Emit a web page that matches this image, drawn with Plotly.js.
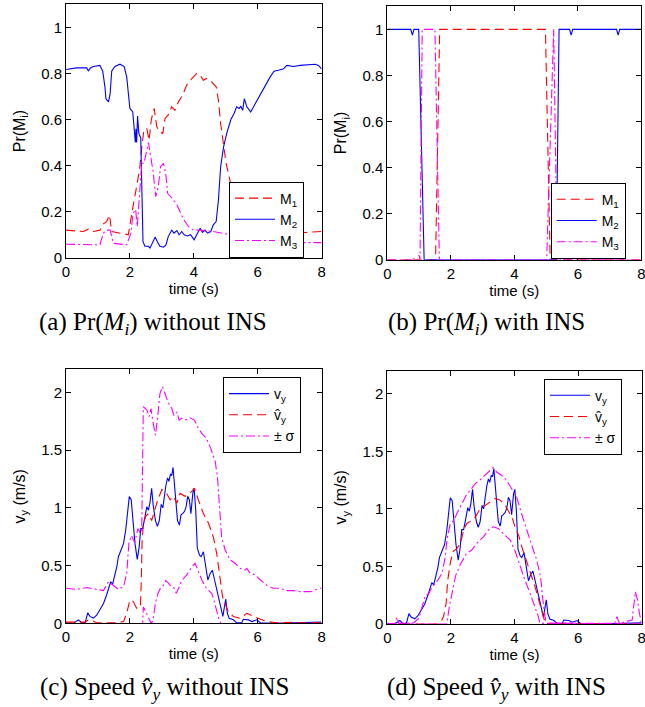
<!DOCTYPE html>
<html><head><meta charset="utf-8">
<script src="https://cdn.plot.ly/plotly-3.0.1.min.js"></script>
<style>html,body{margin:0;padding:0;background:#fff}</style>
</head><body><div id="chart" style="width:645px;height:707px"></div>
<script>
// ---------- Panel (a): Pr(Mi) without INS ----------
const aM1_t = [0,0.33,0.54,0.7,0.86,1.06,1.17,1.27,1.36,1.43,1.69,1.95,2.06,2.13,2.21,2.3,2.37,2.44,2.53,2.6,2.67,2.76,2.84,2.92,3.03,3.1,3.2,3.31,3.41,3.52,3.65,3.78,3.94,4.09,4.2,4.3,4.4,4.56,4.7,4.77,4.84,4.93,5.01,5.11,5.25,5.4,5.55,6.0,7.0,7.5,8.0];
const aM1   = [0.12,0.118,0.114,0.124,0.114,0.12,0.147,0.157,0.186,0.114,0.107,0.10,0.193,0.25,0.31,0.38,0.48,0.555,0.56,0.51,0.60,0.648,0.57,0.547,0.54,0.605,0.62,0.655,0.64,0.677,0.706,0.75,0.778,0.80,0.792,0.77,0.778,0.763,0.742,0.684,0.583,0.48,0.41,0.35,0.25,0.15,0.115,0.11,0.112,0.11,0.114];
const aM2_t = [0,0.33,0.65,0.7,0.76,0.86,1.06,1.15,1.22,1.25,1.33,1.38,1.43,1.53,1.69,1.82,1.9,1.95,2.0,2.09,2.13,2.17,2.19,2.21,2.24,2.28,2.34,2.38,2.41,2.47,2.58,2.63,2.71,2.79,2.86,2.94,3.05,3.13,3.2,3.31,3.38,3.47,3.54,3.62,3.7,3.8,3.9,4.01,4.09,4.2,4.27,4.35,4.43,4.53,4.61,4.7,4.77,4.84,4.93,5.03,5.16,5.26,5.34,5.42,5.47,5.53,5.58,5.66,5.78,5.92,6.08,6.23,6.39,6.51,6.65,6.81,6.91,7.12,7.33,7.54,7.8,7.9,8.0];
const aM2   = [0.817,0.824,0.824,0.81,0.824,0.83,0.835,0.81,0.74,0.69,0.677,0.71,0.81,0.83,0.84,0.83,0.785,0.727,0.648,0.633,0.58,0.50,0.56,0.50,0.615,0.54,0.52,0.25,0.07,0.05,0.05,0.042,0.063,0.09,0.07,0.05,0.046,0.056,0.092,0.12,0.107,0.118,0.10,0.114,0.10,0.095,0.10,0.078,0.10,0.128,0.11,0.12,0.107,0.114,0.143,0.157,0.25,0.395,0.48,0.54,0.60,0.626,0.655,0.648,0.658,0.64,0.69,0.655,0.633,0.67,0.706,0.745,0.785,0.81,0.814,0.82,0.835,0.83,0.835,0.838,0.84,0.835,0.82];
const aM3_t = [0,0.5,1.06,1.17,1.27,1.38,1.48,1.9,2.03,2.1,2.18,2.23,2.3,2.37,2.44,2.53,2.58,2.65,2.73,2.81,2.89,2.96,3.05,3.12,3.18,3.28,3.36,3.47,3.57,3.67,3.83,3.99,4.2,4.61,5.14,5.5,6.0,7.0,8.0];
const aM3   = [0.059,0.058,0.056,0.107,0.12,0.12,0.063,0.056,0.107,0.193,0.21,0.135,0.28,0.41,0.41,0.47,0.50,0.44,0.37,0.265,0.31,0.395,0.41,0.367,0.28,0.265,0.25,0.23,0.20,0.17,0.136,0.12,0.12,0.114,0.10,0.075,0.066,0.065,0.066];

// ---------- Panel (b): Pr(Mi) with INS ----------
const bM1_t = [0,0.75,0.8,0.86,1.52,1.65,4.98,5.13,7.25,7.3,7.35,8];
const bM1   = [0,0,0.01,0,0,1,1,0,0,0.01,0,0];
const bM2_t = [0,0.74,0.79,0.84,0.99,1.16,5.32,5.41,5.74,5.79,5.84,7.22,7.27,7.32,8];
const bM2   = [1,1,0.975,1,1,0,0,1,1,0.975,1,1,0.975,1,1];
const bM3_t = [0,0.95,1.0,1.03,1.1,1.5,1.64,5.02,5.24,5.35,8];
const bM3   = [0,0,0.02,0,1,1,0,0,1,0,0];

// ---------- Measured speed v_y (same in c and d) ----------
const vy_t = [0,0.23,0.39,0.49,0.6,0.68,0.75,0.86,0.96,1.06,1.17,1.27,1.36,1.4,1.46,1.51,1.59,1.64,1.71,1.8,1.87,1.93,1.98,2.04,2.09,2.16,2.23,2.29,2.34,2.4,2.47,2.53,2.58,2.63,2.68,2.73,2.8,2.86,2.92,2.98,3.03,3.08,3.13,3.18,3.22,3.27,3.31,3.35,3.39,3.44,3.49,3.55,3.6,3.65,3.71,3.76,3.81,3.86,3.91,3.97,4.01,4.06,4.11,4.18,4.23,4.3,4.37,4.44,4.51,4.58,4.65,4.72,4.79,4.85,4.91,4.96,5.0,5.05,5.11,5.24,5.34,5.5,5.55,5.71,5.81,5.97,6.08,6.5,7.0,7.54,7.75,8.0];
const vy   = [0.005,0,0.03,0.005,0.005,0.09,0.06,0.045,0.07,0.115,0.17,0.245,0.32,0.36,0.34,0.39,0.49,0.577,0.635,0.69,0.81,0.95,1.097,1.07,0.89,0.69,0.554,0.66,0.82,0.82,0.92,1.01,0.98,1.05,1.17,1.02,0.89,0.84,0.89,1.03,1.0,1.12,1.2,1.26,1.23,1.29,1.28,1.35,1.21,1.07,0.89,0.85,0.94,0.95,0.97,1.01,1.10,1.07,0.95,1.13,1.17,0.98,0.65,0.59,0.577,0.62,0.49,0.375,0.43,0.46,0.375,0.29,0.2,0.115,0.06,0.144,0.21,0.087,0.043,0.03,0.006,0.005,0.035,0.03,0.015,0.03,0.005,0,0.005,0.01,0.01,0.01];

// ---------- Panel (c): estimate without INS ----------
const cVh_t = [0,0.6,0.7,0.85,0.95,1.6,1.8,1.9,2.0,2.1,2.21,2.33,2.36,2.38,2.42,2.5,2.58,2.68,2.84,3.0,3.15,3.26,3.36,3.47,3.57,3.73,3.88,4.02,4.14,4.3,4.46,4.61,4.72,4.82,4.9,4.98,5.08,5.24,5.45,5.66,5.87,6.08,6.28,6.6,7.12,7.33,8];
const cVh   = [0.01,0.01,0.03,0.02,0.005,0.005,0.015,0.087,0.2,0.19,0.13,0.145,0.4,0.7,0.86,0.93,0.95,0.89,1.04,1.16,1.125,1.07,1.1,1.04,1.125,1.1,1.125,1.17,1.07,0.95,0.866,0.75,0.6,0.375,0.23,0.17,0.1,0.058,0.043,0.087,0.058,0.035,0.015,0.005,0.01,0.005,0.005];
const cUp_t = [0,0.33,0.65,0.96,1.17,1.33,1.48,1.64,1.8,1.9,1.97,2.05,2.15,2.25,2.33,2.37,2.42,2.53,2.6,2.66,2.73,2.8,2.87,2.94,3.02,3.08,3.15,3.24,3.31,3.38,3.47,3.54,3.62,3.73,3.88,4.02,4.14,4.25,4.4,4.53,4.67,4.74,4.8,4.87,4.98,5.14,5.29,5.45,5.6,5.66,5.76,5.92,6.08,6.28,6.49,6.7,6.91,7.12,7.33,7.64,7.95,8];
const cUp   = [0.303,0.294,0.31,0.294,0.283,0.36,0.33,0.294,0.317,0.43,0.7,0.76,0.7,0.82,0.78,0.8,1.876,1.85,1.79,1.86,1.73,1.63,1.79,1.99,2.05,2.0,1.95,1.89,1.86,1.80,1.83,1.76,1.775,1.76,1.78,1.76,1.69,1.645,1.6,1.515,1.40,1.27,1.01,0.75,0.635,0.55,0.52,0.476,0.46,0.476,0.433,0.42,0.375,0.33,0.303,0.303,0.283,0.283,0.274,0.274,0.303,0.303];
const cLo_t = [2.37,2.42,2.5,2.58,2.66,2.72,2.8,2.88,2.95,3.05,3.12,3.2,3.26,3.36,3.45,3.52,3.62,3.78,3.94,4.04,4.14,4.25,4.4,4.56,4.63,4.72,4.79,4.85,4.95];
const cLo   = [-0.2,0.14,0.1,0.05,0.0,0.02,0.18,0.26,0.3,0.33,0.37,0.35,0.33,0.32,0.26,0.3,0.37,0.42,0.49,0.52,0.45,0.375,0.3,0.26,0.2,0.1,0.03,0,-0.1];

// ---------- Panel (d): estimate with INS ----------
const dVh_t = [0,1.6,1.67,1.77,1.85,1.9,1.98,2.06,2.19,2.3,2.4,2.5,2.66,2.77,2.92,3.07,3.23,3.39,3.55,3.71,3.82,3.92,4.02,4.13,4.23,4.34,4.44,4.55,4.65,4.76,4.86,4.94,5.0,8];
const dVh   = [0,0,0.01,0.064,0.18,0.38,0.526,0.627,0.656,0.70,0.815,0.873,0.9,0.93,1.0,1.03,1.06,1.09,1.075,1.03,0.975,0.93,0.84,0.77,0.67,0.58,0.5,0.41,0.32,0.21,0.107,0.035,0.006,0];
const dUp_t = [0,0.25,0.3,0.36,0.51,0.83,0.99,1.09,1.2,1.3,1.4,1.56,1.72,1.82,1.88,1.98,2.09,2.19,2.35,2.5,2.66,2.77,2.91,3.12,3.33,3.44,3.6,3.75,3.9,4.07,4.22,4.38,4.54,4.7,4.82,4.88,4.94,4.98,5.05,5.6,6.2,7.15,7.22,7.3,7.7,7.8,7.87,7.93,8.0];
const dUp   = [0,0.005,0.06,0.005,0.005,0.01,0.05,0.136,0.25,0.26,0.32,0.367,0.44,0.58,0.74,0.87,0.9,0.96,1.046,1.13,1.18,1.22,1.25,1.306,1.358,1.32,1.29,1.25,1.176,1.10,0.96,0.815,0.685,0.555,0.41,0.237,0.09,0.02,0,0.01,0.005,0.005,0.064,0.005,0.035,0.28,0.21,0.09,0];
const dLo_t = [0,1.87,1.95,2.05,2.15,2.3,2.49,2.65,2.81,3.02,3.18,3.33,3.49,3.7,3.86,4.01,4.17,4.33,4.49,4.64,4.75,4.8,8];
const dLo   = [0,0,0.15,0.3,0.42,0.52,0.613,0.64,0.7,0.757,0.815,0.844,0.83,0.77,0.73,0.64,0.5,0.38,0.266,0.15,0.064,0.006,0];

// ---------- ticks, labels ----------
const timeTicks = [0,2,4,6,8];
const probTicks = [0,0.2,0.4,0.6,0.8,1];
const probTickText = ['0','0.2','0.4','0.6','0.8','1'];
const speedTicks = [0,0.5,1,1.5,2];
const speedTickText = ['0','0.5','1','1.5','2'];
const modelNames = ['M<sub>1</sub>','M<sub>2</sub>','M<sub>3</sub>'];
const speedNames = ['v<sub>y</sub>','v\u0302<sub>y</sub>','\u00b1 \u03c3'];
const captions = ['(a) Pr(<i>M<sub>i</sub></i>) without INS','(b) Pr(<i>M<sub>i</sub></i>) with INS','(c) Speed <i>v\u0302<sub>y</sub></i> without INS','(d) Speed <i>v\u0302<sub>y</sub></i> with INS'];

const RED='#ff0000', BLUE='#0000ff', MAG='#ff00ff';
const DASH='9px,5px', DASHDOT='9px,3px,2px,3px';
function tr(x,y,name,color,dash,xa,ya,leg){
  return {type:'scatter',mode:'lines',x:x,y:y,name:name,xaxis:xa,yaxis:ya,legend:leg,
    connectgaps:false,line:{color:color,width:1.1,dash:dash},hoverinfo:'skip'};
}
// upper and lower sigma bounds drawn as one trace, separated by a gap
const cSig_t = cUp_t.concat([null], cLo_t), cSig = cUp.concat([null], cLo);
const dSig_t = dUp_t.concat([null], dLo_t), dSig = dUp.concat([null], dLo);
const traces = [
  tr(aM1_t,aM1,modelNames[0],RED,DASH,'x','y','legend'),
  tr(aM2_t,aM2,modelNames[1],BLUE,'solid','x','y','legend'),
  tr(aM3_t,aM3,modelNames[2],MAG,DASHDOT,'x','y','legend'),
  tr(bM1_t,bM1,modelNames[0],RED,DASH,'x2','y2','legend2'),
  tr(bM2_t,bM2,modelNames[1],BLUE,'solid','x2','y2','legend2'),
  tr(bM3_t,bM3,modelNames[2],MAG,DASHDOT,'x2','y2','legend2'),
  tr(vy_t,vy,speedNames[0],BLUE,'solid','x3','y3','legend3'),
  tr(cVh_t,cVh,speedNames[1],RED,DASH,'x3','y3','legend3'),
  tr(cSig_t,cSig,speedNames[2],MAG,DASHDOT,'x3','y3','legend3'),
  tr(vy_t,vy,speedNames[0],BLUE,'solid','x4','y4','legend4'),
  tr(dVh_t,dVh,speedNames[1],RED,DASH,'x4','y4','legend4'),
  tr(dSig_t,dSig,speedNames[2],MAG,DASHDOT,'x4','y4','legend4')
];

const W=645, H=707;
const SANS='Liberation Sans, Arial, sans-serif';
const SERIF='Liberation Serif, Times New Roman, serif';
function ax(extra){
  return Object.assign({showline:true,linecolor:'#000',linewidth:1,mirror:'ticks',ticks:'inside',ticklen:5,
    tickcolor:'#000',tickwidth:1,showgrid:false,zeroline:false,fixedrange:true,ticklabeloverflow:'allow',
    tickfont:{family:SANS,size:15,color:'#000'}},extra);
}
function xax(px0,px1,anchor){
  return ax({domain:[px0/W,px1/W],range:[0,8],tickvals:timeTicks,anchor:anchor,
    title:{text:'time (s)',font:{family:SANS,size:15,color:'#000'},standoff:4}});
}
function yax(py0,py1,anchor,ticks,text,range,title){
  return ax({domain:[1-py1/H,1-py0/H],range:range,tickvals:ticks,ticktext:text,anchor:anchor,
    title:{text:title,font:{family:SANS,size:16,color:'#000'},standoff:11}});
}
function leg(px,py){
  return {x:px/W,y:1-py/H,xanchor:'left',yanchor:'top',xref:'paper',yref:'paper',
    bgcolor:'#fff',bordercolor:'#000',borderwidth:1,
    itemwidth:40,font:{family:SANS,size:14,color:'#000'}};
}
function cap(text,px,py){
  return {text:text,x:px/W,y:1-py/H,xref:'paper',yref:'paper',xanchor:'center',yanchor:'middle',
    showarrow:false,font:{family:SERIF,size:25,color:'#000'}};
}
const layout = {
  width:W,height:H,margin:{l:0,r:0,t:0,b:0},paper_bgcolor:'#fff',plot_bgcolor:'#fff',
  showlegend:true,
  xaxis: xax(66,321.6,'y'),
  yaxis: yax(4.3,257.8,'x',probTicks,probTickText,[0,1.1],'Pr(M<sub>i</sub>)'),
  xaxis2:xax(387.3,641.3,'y2'),
  yaxis2:yax(6.3,259.7,'x2',probTicks,probTickText,[0,1.1],'Pr(M<sub>i</sub>)'),
  xaxis3:xax(66,321.6,'y3'),
  yaxis3:yax(369.3,623.3,'x3',speedTicks,speedTickText,[0,2.2],'v<sub>y</sub> (m/s)'),
  xaxis4:xax(387.3,641.7,'y4'),
  yaxis4:yax(370.7,624,'x4',speedTicks,speedTickText,[0,2.2],'v<sub>y</sub> (m/s)'),
  legend: leg(229,181.5),
  legend2:leg(550.7,182.7),
  legend3:leg(223,377),
  legend4:leg(544,378.7),
  annotations:[cap(captions[0],153,323),cap(captions[1],486,323),cap(captions[2],164,688),cap(captions[3],496,688)]
};
Plotly.newPlot('chart',traces,layout,{displayModeBar:false,staticPlot:true});
</script></body></html>
